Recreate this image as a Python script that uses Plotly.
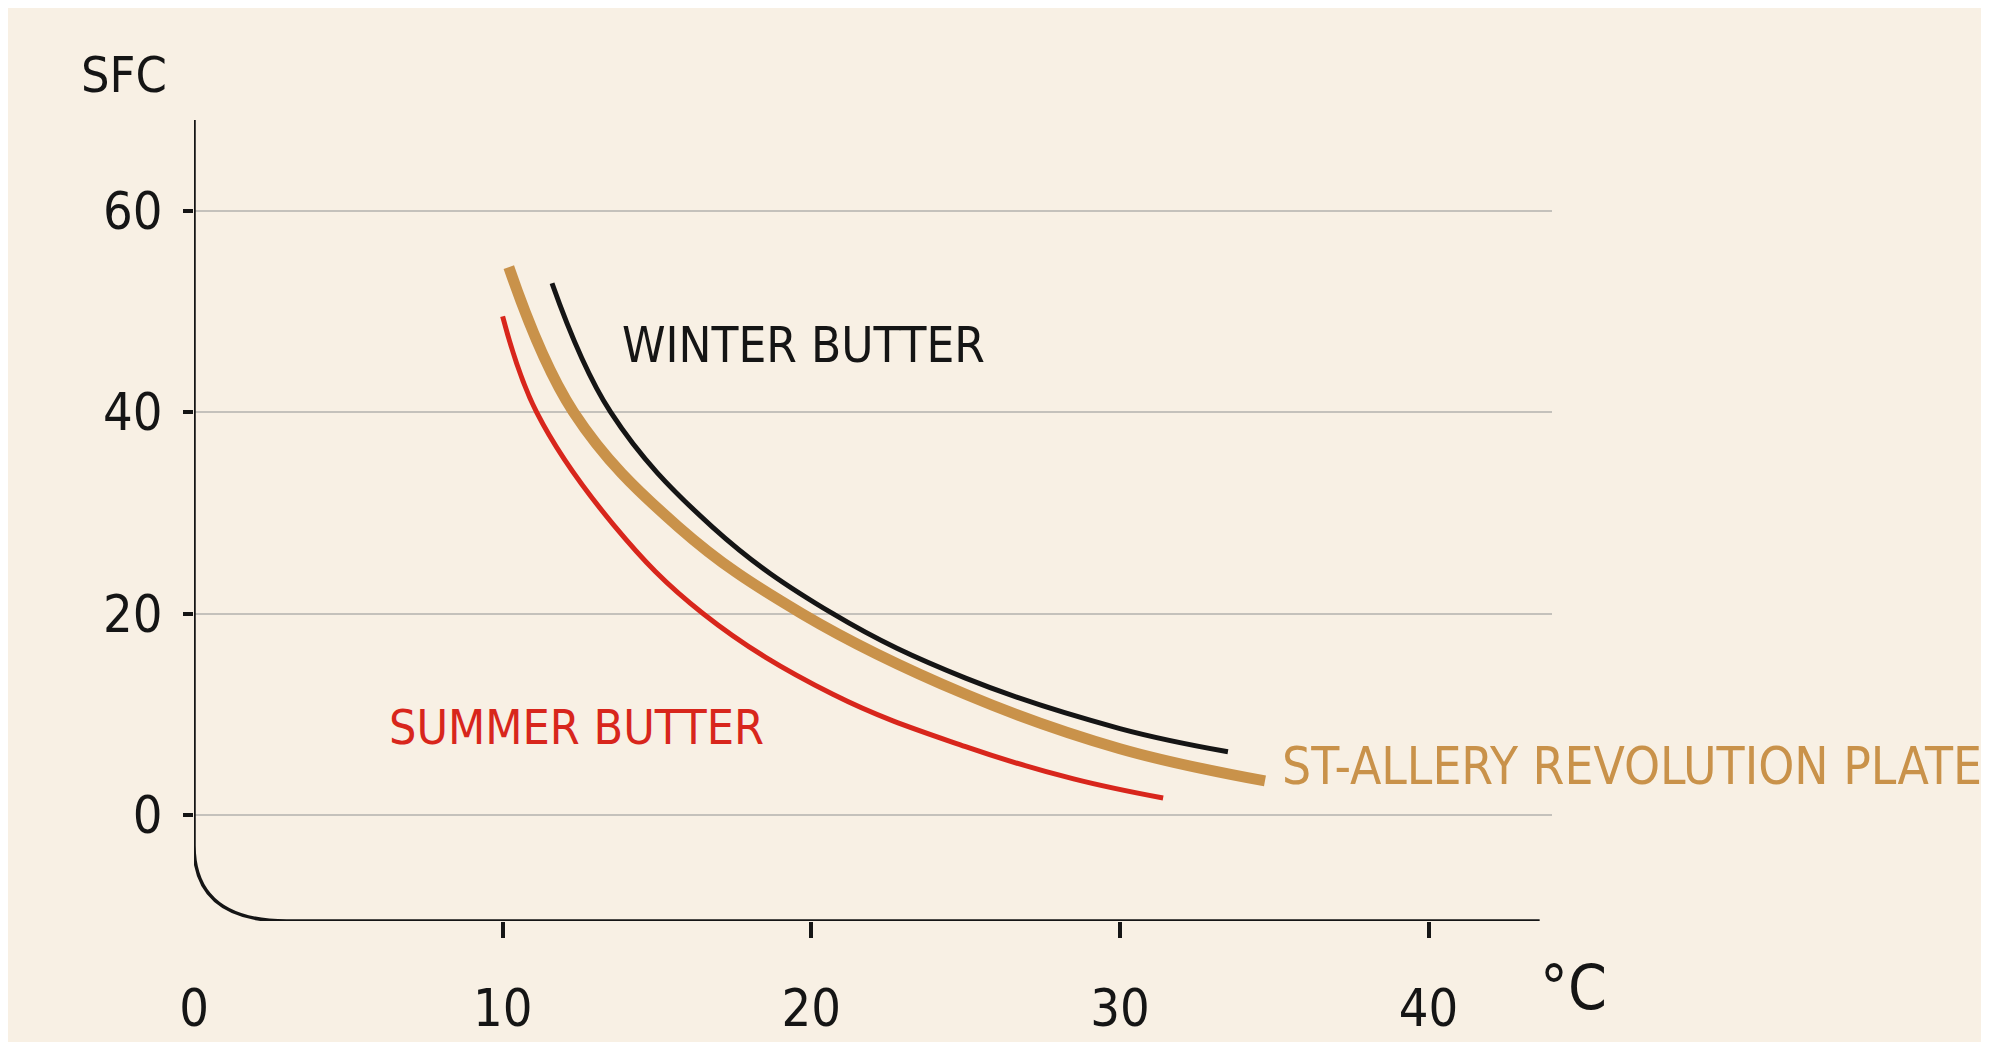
import plotly.graph_objects as go

# ---------------- data ----------------
summer_x = [10.0, 11.1, 13.6, 16.5, 20.7, 25.0, 28.5, 31.4]
summer_y = [49.5, 40.0, 28.8, 20.0, 12.0, 6.8, 3.6, 1.7]

allery_x = [10.2, 12.3, 15.7, 19.7, 25.0, 30.0, 34.7]
allery_y = [54.4, 40.0, 28.6, 20.0, 12.0, 6.6, 3.4]

winter_x = [11.6, 13.5, 16.8, 20.7, 25.0, 30.0, 33.5]
winter_y = [52.8, 40.0, 28.6, 20.0, 13.6, 8.6, 6.3]

x_ticks = [0, 10, 20, 30, 40]
x_tick_text = ["0", "10", "20", "30", "40"]
y_ticks = [0, 20, 40, 60]
y_tick_text = ["0", "20", "40", "60"]

label_winter = "WINTER BUTTER"
label_summer = "SUMMER BUTTER"
label_allery = "ST-ALLERY REVOLUTION PLATE"
y_title = "SFC"
x_title = "°C"

# ---------------- style ----------------
BG = "#f8f0e4"
INK = "#151515"
RED = "#d8261c"
GOLD = "#c9924a"
GRID = "#c4c1bb"
FONT = "Liberation Sans Narrow, DejaVu Sans Condensed, Roboto Condensed, Arial Narrow, sans-serif"

W, H = 1989, 1042
XMIN, XMAX = 0, 44
YMIN, YMAX = -10.5, 69

# plot area margins so that x=0 -> 186px, x=40 -> 1421px, y=0 -> 824px, y=60 -> 205px
px_x = (1421 - 186) / 40.0
px_y = (824 - 205) / 60.0
l = 186
r = W - (186 + XMAX * px_x)
t = 824 - YMAX * px_y
b = H - (824 - YMIN * px_y)
plot_w = W - l - r
plot_h = H - t - b


def paper_x(px):
    return (px - l) / plot_w


def paper_y(py):
    return (H - b - py) / plot_h


fig = go.Figure()

fig.add_trace(go.Scatter(x=summer_x, y=summer_y, mode="lines",
                         line=dict(color=RED, width=5, shape="spline", smoothing=1.1),
                         hoverinfo="skip", showlegend=False))
fig.add_trace(go.Scatter(x=allery_x, y=allery_y, mode="lines",
                         line=dict(color=GOLD, width=11, shape="spline", smoothing=1.1),
                         hoverinfo="skip", showlegend=False))
fig.add_trace(go.Scatter(x=winter_x, y=winter_y, mode="lines",
                         line=dict(color=INK, width=5, shape="spline", smoothing=1.1),
                         hoverinfo="skip", showlegend=False))

# hand-drawn style axis with a rounded corner
fig.add_shape(type="path", xref="x", yref="y",
              path=f"M 0,{YMAX} L 0,-3 Q 0,{YMIN} 3.0,{YMIN} L 43.6,{YMIN}",
              line=dict(color=INK, width=3.5), layer="above")

ann = [
    dict(x=13.8, y=46.6, text=label_winter, xanchor="left", yanchor="middle",
         xref="x", yref="y", font=dict(family=FONT, size=49, color=INK)),
    dict(x=6.25, y=8.8, text=label_summer, xanchor="left", yanchor="middle",
         xref="x", yref="y", font=dict(family=FONT, size=48, color=RED)),
    dict(x=35.2, y=4.8, text=label_allery, xanchor="left", yanchor="middle",
         xref="x", yref="y", font=dict(family=FONT, size=51, color=GOLD)),
    dict(x=paper_x(116), y=paper_y(66), text=y_title, xanchor="center", yanchor="middle",
         xref="paper", yref="paper", font=dict(family=FONT, size=50, color=INK)),
    dict(x=paper_x(1566), y=paper_y(1000), text=x_title, xanchor="center", yanchor="middle",
         xref="paper", yref="paper", font=dict(family=FONT, size=62, color=INK)),
]
for a in ann:
    a.update(showarrow=False)
fig.update_layout(annotations=ann)

fig.update_layout(
    width=W, height=H,
    paper_bgcolor=BG, plot_bgcolor=BG,
    margin=dict(l=l, r=r, t=t, b=b, pad=0),
    xaxis=dict(range=[XMIN, XMAX], showgrid=False, zeroline=False, showline=False,
               tickmode="array", tickvals=x_ticks, ticktext=x_tick_text,
               ticks="", ticklabelstandoff=52,
               tickfont=dict(family=FONT, size=52, color=INK),
               minor=dict(tickmode="array", tickvals=[10, 20, 30, 40], ticks="outside",
                          ticklen=16, tickwidth=3.5, tickcolor=INK, showgrid=False)),
    yaxis=dict(range=[YMIN, YMAX], showgrid=True, gridcolor=GRID, gridwidth=2,
               zeroline=False, showline=False,
               tickmode="array", tickvals=y_ticks, ticktext=y_tick_text,
               ticks="outside", ticklen=10, tickwidth=4, tickcolor=INK,
               ticklabelstandoff=10,
               tickfont=dict(family=FONT, size=52, color=INK)),
)

fig.write_html("out.html")
